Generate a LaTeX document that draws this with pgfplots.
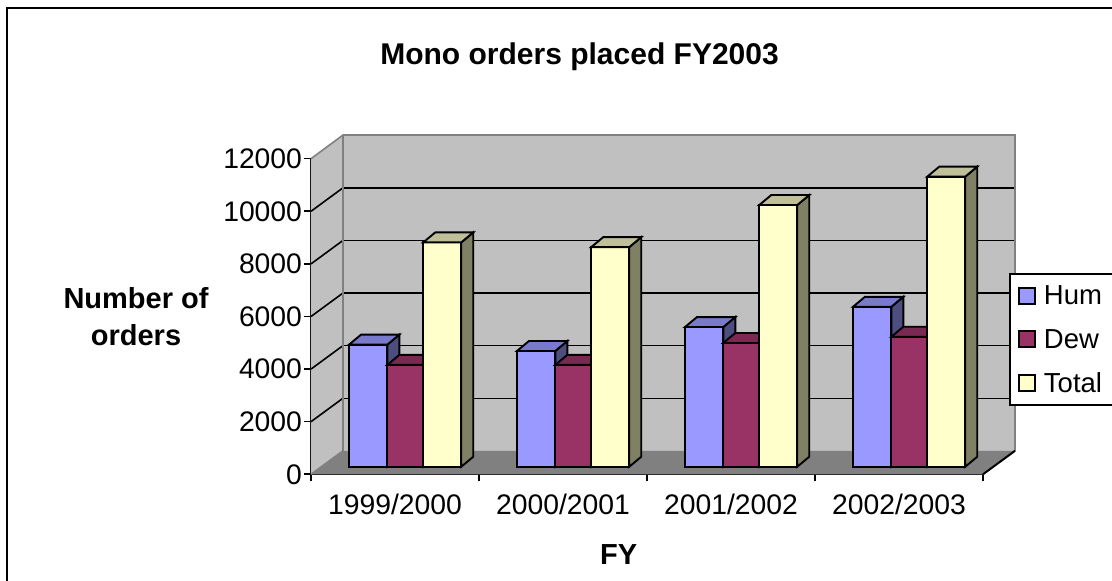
\documentclass[border=0pt]{standalone}
\usepackage{pgfplots}
\pgfplotsset{compat=1.18}
\usepackage{fontspec}
\setmainfont{Liberation Sans}
\definecolor{humF}{HTML}{9999FF}\definecolor{humS}{HTML}{4D4D80}\definecolor{humT}{HTML}{7A7ACC}
\definecolor{dewF}{HTML}{993366}\definecolor{dewS}{HTML}{4D1A33}\definecolor{dewT}{HTML}{7A2952}
\definecolor{totF}{HTML}{FFFFCC}\definecolor{totS}{HTML}{808066}\definecolor{totT}{HTML}{BFBF99}
\definecolor{wall}{HTML}{C0C0C0}\definecolor{floorc}{HTML}{808080}
\newcommand{\tickfont}{\fontsize{28.3}{32}\selectfont}
\newcommand{\labfont}{\fontsize{29}{37}\selectfont\bfseries}
% one bar: left x, right x, value, colour prefix (depth 12 px by 10 px)
\newcommand{\threedbar}[4]{%
  \pgfmathsetmacro{\xb}{#2+12/168}\pgfmathsetmacro{\xa}{#1+12/168}%
  \pgfmathsetmacro{\vb}{#3+380}%
  \addplot[forget plot,bar3d,fill=#4F] coordinates {(#1,0) (#2,0) (#2,#3) (#1,#3)} --cycle;
  \addplot[forget plot,bar3d,fill=#4S] coordinates {(#2,0) (\xb,380) (\xb,\vb) (#2,#3)} --cycle;
  \addplot[forget plot,bar3d,fill=#4T] coordinates {(#1,#3) (\xa,\vb) (\xb,\vb) (#2,#3)} --cycle;
}
\newcommand{\threedgroup}[4]{%
  \pgfmathsetmacro{\xAa}{#1+0.2262}\pgfmathsetmacro{\xAb}{#1+0.4542}%
  \pgfmathsetmacro{\xAc}{#1+0.6685}\pgfmathsetmacro{\xAd}{#1+0.8946}%
  \edef\doit{\noexpand\threedbar{\xAa}{\xAb}{#2}{hum}\noexpand\threedbar{\xAb}{\xAc}{#3}{dew}\noexpand\threedbar{\xAc}{\xAd}{#4}{tot}}\doit
}
\pgfplotsset{bar3d/.style={draw=black,line width=1.9pt,line join=miter,xshift=0pt,yshift=7.6pt}}
\begin{document}
\begin{tikzpicture}[x=1pt,y=1pt]
\useasboundingbox (0,0) rectangle (1112,581);
\fill[white] (0,0) rectangle (1112,581);
\draw[black,line width=2pt] (7,-5) -- (7,572.5) -- (1120,572.5);
\begin{axis}[
  at={(311pt,106.7pt)},anchor=south west,
  scale only axis,width=672pt,height=315.6pt,
  xmin=0,xmax=4,ymin=0,ymax=12000,
  clip=false,
  axis x line=bottom,axis y line=left,
  axis line style={-,black,line width=2pt},
  xtick={0,1,2,3,4},x tick label as interval,
  xticklabels={1999/2000,2000/2001,2001/2002,2002/2003},
  xticklabel style={yshift=-9pt},
  yticklabel style={xshift=1.5pt},
  ytick={0,2000,...,12000},
  tick align=outside,major tick length=7pt,
  tick style={black,line width=1.6pt},
  tick label style={font=\tickfont},
  /pgf/number format/assume math mode=true,
  /pgf/number format/1000 sep={},
  scaled y ticks=false,
  title={Mono orders placed FY2003},
  title style={at={(axis description cs:0.3996,1.3033)},anchor=center,font=\fontsize{30}{36}\selectfont\bfseries},
  xlabel={FY},
  xlabel style={at={(axis description cs:0.458,-0.2557)},anchor=center,font=\labfont},
  ylabel={Number of\\orders},
  ylabel style={at={(axis description cs:-0.2604,0.498)},anchor=center,rotate=-90,align=center,font=\labfont},
  legend style={at={(axis description cs:1.0387,0.6373)},anchor=north west,draw=black,line width=2pt,fill=white,
    font=\fontsize{27.5}{32}\selectfont,inner xsep=8pt,inner ysep=8.5pt,row sep=17pt,
    nodes={inner sep=3pt,anchor=west}},
  legend cell align=left,
]
% walls and floor
\addplot[forget plot,draw=none,fill=wall] coordinates {(0,0) (0.1905,893) (4.1905,893) (4.1905,12900) (0.1905,12900) (0,12000)} --cycle;
\addplot[forget plot,draw=none,fill=floorc] coordinates {(0,0) (4,0) (4.1905,893) (0.1905,893)} --cycle;
% gridlines: on the side wall and the back wall
\addplot[forget plot,black,line width=1.6pt] coordinates {(0,2000) (0.1905,2893)};
\addplot[forget plot,black,line width=1.6pt] coordinates {(0,4000) (0.1905,4893)};
\addplot[forget plot,black,line width=1.6pt] coordinates {(0,6000) (0.1905,6893)};
\addplot[forget plot,black,line width=1.6pt] coordinates {(0,8000) (0.1905,8893)};
\addplot[forget plot,black,line width=1.6pt] coordinates {(0,10000) (0.1905,10893)};
\addplot[forget plot,black,line width=1.1pt] coordinates {(0.1905,2893) (4.1905,2893)};
\addplot[forget plot,black,line width=1.1pt] coordinates {(0.1905,4893) (4.1905,4893)};
\addplot[forget plot,black,line width=1.1pt] coordinates {(0.1905,6893) (4.1905,6893)};
\addplot[forget plot,black,line width=1.8pt] coordinates {(0.1905,8893) (4.1905,8893)};
\addplot[forget plot,black,line width=1.8pt] coordinates {(0.1905,10893) (4.1905,10893)};
% wall outlines
\addplot[forget plot,floorc,line width=1.6pt] coordinates {(0,0) (0.1905,893) (0.1905,12900)};
\addplot[forget plot,floorc,line width=1.6pt] coordinates {(0,12000) (0.1905,12900) (4.1905,12900) (4.1905,893)};
\addplot[forget plot,black,line width=2pt] coordinates {(4,0) (4.1905,893)};
% bars
\threedgroup{0}{4640}{3870}{8530}
\threedgroup{1}{4400}{3870}{8350}
\threedgroup{2}{5310}{4705}{9950}
\threedgroup{3}{6080}{4940}{11030}
% legend
\addlegendimage{legend image code/.code={\path[draw=none] (0pt,0pt) -- (22pt,0pt);\draw[black,line width=1.9pt,fill=humF] (0pt,-8pt) rectangle (16pt,8pt);}}
\addlegendentry{\makebox[90pt][l]{Hum}}
\addlegendimage{legend image code/.code={\path[draw=none] (0pt,0pt) -- (22pt,0pt);\draw[black,line width=1.9pt,fill=dewF] (0pt,-8pt) rectangle (16pt,8pt);}}
\addlegendentry{\makebox[90pt][l]{Dew}}
\addlegendimage{legend image code/.code={\path[draw=none] (0pt,0pt) -- (22pt,0pt);\draw[black,line width=1.9pt,fill=totF] (0pt,-8pt) rectangle (16pt,8pt);}}
\addlegendentry{\makebox[90pt][l]{Total}}
\end{axis}
\end{tikzpicture}
\end{document}
